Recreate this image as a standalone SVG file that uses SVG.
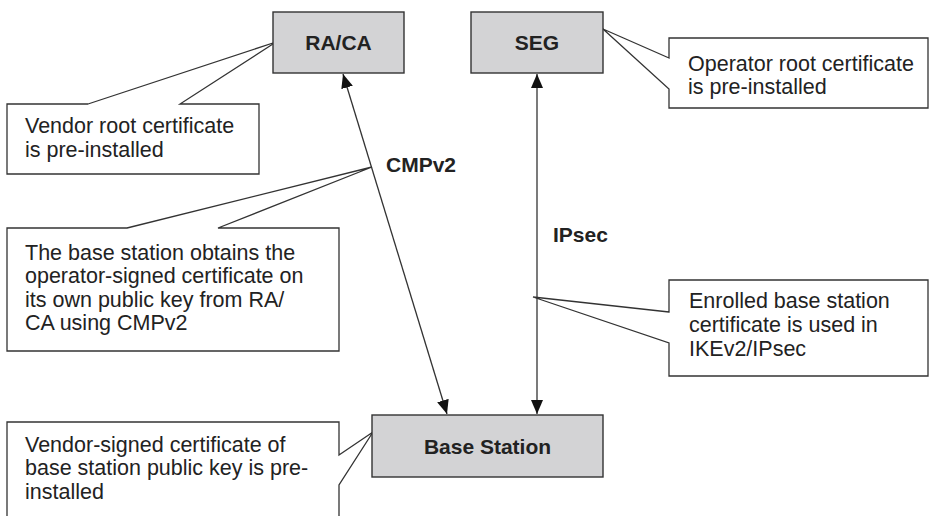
<svg xmlns="http://www.w3.org/2000/svg" width="929" height="516" viewBox="0 0 929 516">
<defs>
<style>
.node{fill:#d3d3d5;stroke:#333;stroke-width:1.4}
.call{fill:#fff;stroke:#333;stroke-width:1.3;stroke-linejoin:miter}
.lbl{font-family:"Liberation Sans",Arial,sans-serif;font-size:21px;font-weight:bold;fill:#222}
.txt{font-family:"Liberation Sans",Arial,sans-serif;font-size:21.5px;fill:#222}
.conn{stroke:#333;stroke-width:1.3;fill:none}
</style>
<marker id="ah" viewBox="0 0 14 12" refX="14" refY="6" markerWidth="14" markerHeight="12" markerUnits="userSpaceOnUse" orient="auto-start-reverse">
<path d="M0,0 L14,6 L0,12 Z" fill="#111"/>
</marker>
</defs>
<rect width="929" height="516" fill="#fff"/>

<g id="callout-vendor-root">
<path class="call" d="M88,104 L276,42 L180,104 L259,104 L259,174 L7,174 L7,104 Z"/>
<text class="txt" x="25" y="133">Vendor root certificate</text>
<text class="txt" x="25" y="157">is pre-installed</text>
</g>

<g id="callout-operator-root">
<path class="call" d="M669,58 L603,29 L669,89 L669,108 L928,108 L928,38 L669,38 Z"/>
<text class="txt" x="688" y="71">Operator root certificate</text>
<text class="txt" x="688" y="94">is pre-installed</text>
</g>

<g id="callout-cmpv2">
<path class="call" d="M127,228 L372,167 L218,228 L339,228 L339,351 L7,351 L7,228 Z"/>
<text class="txt" x="25" y="260">The base station obtains the</text>
<text class="txt" x="25" y="283">operator-signed certificate on</text>
<text class="txt" x="25" y="307">its own public key from RA/</text>
<text class="txt" x="25" y="330">CA using CMPv2</text>
</g>

<g id="callout-enrolled">
<path class="call" d="M669,312 L533,297 L669,343 L669,376 L928,376 L928,280 L669,280 Z"/>
<text class="txt" x="689" y="308">Enrolled base station</text>
<text class="txt" x="689" y="332">certificate is used in</text>
<text class="txt" x="689" y="356">IKEv2/IPsec</text>
</g>

<g id="callout-vendor-signed">
<path class="call" d="M339,455 L373,432 L339,485 L339,530 L7,530 L7,422 L339,422 Z"/>
<text class="txt" x="25" y="452">Vendor-signed certificate of</text>
<text class="txt" x="25" y="475">base station public key is pre-</text>
<text class="txt" x="25" y="499">installed</text>
</g>

<g id="connectors">
<line class="conn" x1="343" y1="74" x2="447" y2="414" marker-start="url(#ah)" marker-end="url(#ah)"/>
<line class="conn" x1="537" y1="74" x2="537" y2="414" marker-start="url(#ah)" marker-end="url(#ah)"/>
<text class="lbl" x="386" y="172">CMPv2</text>
<text class="lbl" x="553" y="242">IPsec</text>
</g>

<g id="node-raca">
<rect class="node" x="273" y="12" width="131" height="61"/>
<text class="lbl" x="338.5" y="50" text-anchor="middle">RA/CA</text>
</g>

<g id="node-seg">
<rect class="node" x="471" y="12" width="132" height="61"/>
<text class="lbl" x="537" y="50" text-anchor="middle">SEG</text>
</g>

<g id="node-base-station">
<rect class="node" x="372" y="415" width="231" height="62"/>
<text class="lbl" x="487.5" y="453.5" text-anchor="middle">Base Station</text>
</g>
</svg>
